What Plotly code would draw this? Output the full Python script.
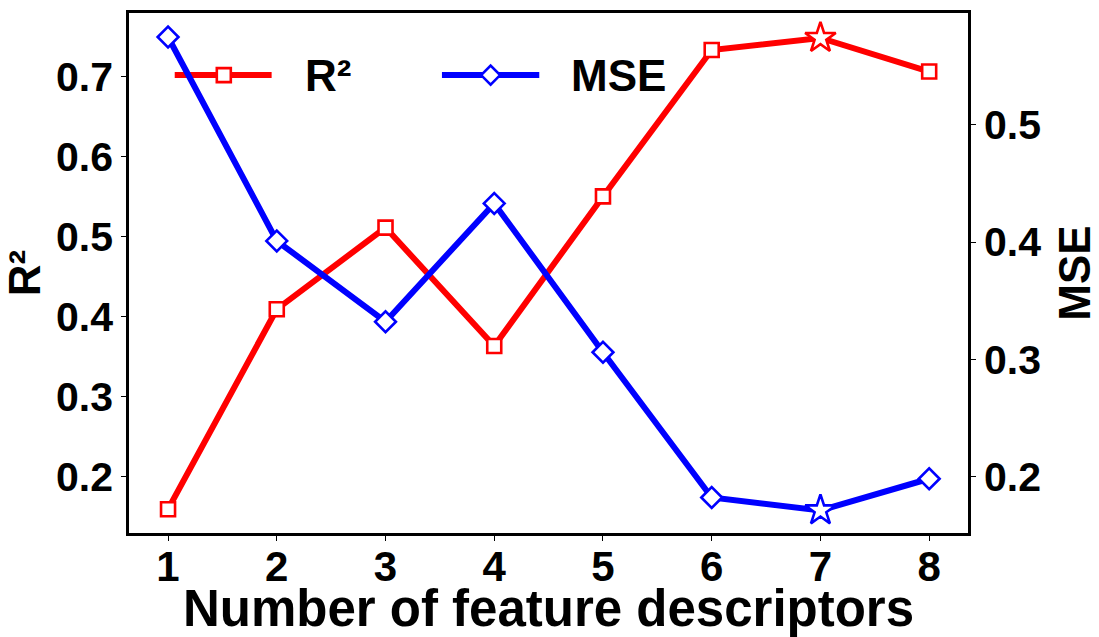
import plotly.graph_objects as go

# ---- data ----
n_desc = [1, 2, 3, 4, 5, 6, 7, 8]
r2_vals = [0.159, 0.409, 0.511, 0.363, 0.550, 0.733, 0.748, 0.706]
mse_vals = [0.575, 0.401, 0.332, 0.433, 0.306, 0.182, 0.171, 0.198]
best_idx = 6  # 7 descriptors
x_ticks = [1, 2, 3, 4, 5, 6, 7, 8]
r2_ticks = [0.2, 0.3, 0.4, 0.5, 0.6, 0.7]
mse_ticks = [0.2, 0.3, 0.4, 0.5]

RED = "#ff0000"
BLUE = "#0000ff"
FONT = "Liberation Sans, Arial, sans-serif"

sq_sym = ["star" if i == best_idx else "square" for i in range(len(n_desc))]
sq_size = [23 if i == best_idx else 14 for i in range(len(n_desc))]
dm_sym = ["star" if i == best_idx else "diamond" for i in range(len(n_desc))]
dm_size = [23 if i == best_idx else 16 for i in range(len(n_desc))]

fig = go.Figure()
fig.add_trace(go.Scatter(
    x=n_desc, y=r2_vals, mode="lines+markers", name="R²",
    line=dict(color=RED, width=6),
    marker=dict(symbol=sq_sym, size=sq_size, color="white", opacity=1,
                line=dict(color=RED, width=2.6)),
    yaxis="y", showlegend=False))
fig.add_trace(go.Scatter(
    x=n_desc, y=mse_vals, mode="lines+markers", name="MSE",
    line=dict(color=BLUE, width=6),
    marker=dict(symbol=dm_sym, size=dm_size, color="white", opacity=1,
                line=dict(color=BLUE, width=2.6)),
    yaxis="y2", showlegend=False))

axis_common = dict(showgrid=False, zeroline=False, showline=True,
                   linecolor="black", linewidth=2.5, ticks="outside",
                   ticklen=5, tickwidth=1.2, tickcolor="black",
                   automargin=False)

fig.update_layout(
    width=1099, height=637,
    margin=dict(l=129, r=131, t=13, b=104),
    paper_bgcolor="white", plot_bgcolor="rgba(0,0,0,0)",
    font=dict(family=FONT, color="black", weight="bold"),
    xaxis=dict(range=[0.641, 8.357], tickvals=x_ticks,
               ticktext=[str(v) for v in x_ticks], mirror=True,
               ticklabelstandoff=-10,
               tickfont=dict(size=42, family=FONT, weight="bold"),
               title=dict(text="Number of feature descriptors", standoff=3,
                          font=dict(size=51, family=FONT, weight="bold")),
               **axis_common),
    yaxis=dict(range=[0.1293, 0.7792], tickvals=r2_ticks,
               ticktext=[f"{v:.1f}" for v in r2_ticks],
               tickfont=dict(size=41, family=FONT, weight="bold"),
               title=dict(text="R²", standoff=14,
                          font=dict(size=44, family=FONT, weight="bold")),
               **axis_common),
    yaxis2=dict(range=[0.1517, 0.5955], tickvals=mse_ticks,
                ticktext=[f"{v:.1f}" for v in mse_ticks],
                overlaying="y", side="right",
                tickfont=dict(size=41, family=FONT, weight="bold"),
                title=dict(text="MSE", standoff=21,
                           font=dict(size=44, family=FONT, weight="bold")),
                **axis_common),
)

# ---- custom legend (wide handles like the original) ----
ly = 0.8806
shapes = [
    dict(type="line", xref="paper", yref="paper", x0=0.0545, x1=0.170,
         y0=ly, y1=ly, line=dict(color=RED, width=6), layer="below"),
    dict(type="rect", xref="paper", yref="paper", xsizemode="pixel",
         ysizemode="pixel", xanchor=0.113, yanchor=ly,
         x0=-7, x1=7, y0=-7, y1=7, fillcolor="white",
         line=dict(color=RED, width=2.6), layer="below"),
    dict(type="line", xref="paper", yref="paper", x0=0.373, x1=0.489,
         y0=ly, y1=ly, line=dict(color=BLUE, width=6), layer="below"),
    dict(type="path", xref="paper", yref="paper", xsizemode="pixel",
         ysizemode="pixel", xanchor=0.431, yanchor=ly,
         path="M -9.5 0 L 0 9.5 L 9.5 0 L 0 -9.5 Z", fillcolor="white",
         line=dict(color=BLUE, width=2.6), layer="below"),
]
fig.update_layout(shapes=shapes)
fig.add_annotation(x=0.207, y=ly, xref="paper", yref="paper", text="R²",
                   showarrow=False, xanchor="left", yanchor="middle",
                   font=dict(size=44, family=FONT, color="black", weight="bold"))
fig.add_annotation(x=0.524, y=ly, xref="paper", yref="paper", text="MSE",
                   showarrow=False, xanchor="left", yanchor="middle",
                   font=dict(size=44, family=FONT, color="black", weight="bold"))

fig.write_html("out.html",
               config={"displayModeBar": False},
               post_script="document.body.style.margin='0';"
                           "document.body.style.padding='0';"
                           "document.body.style.overflow='hidden';")
